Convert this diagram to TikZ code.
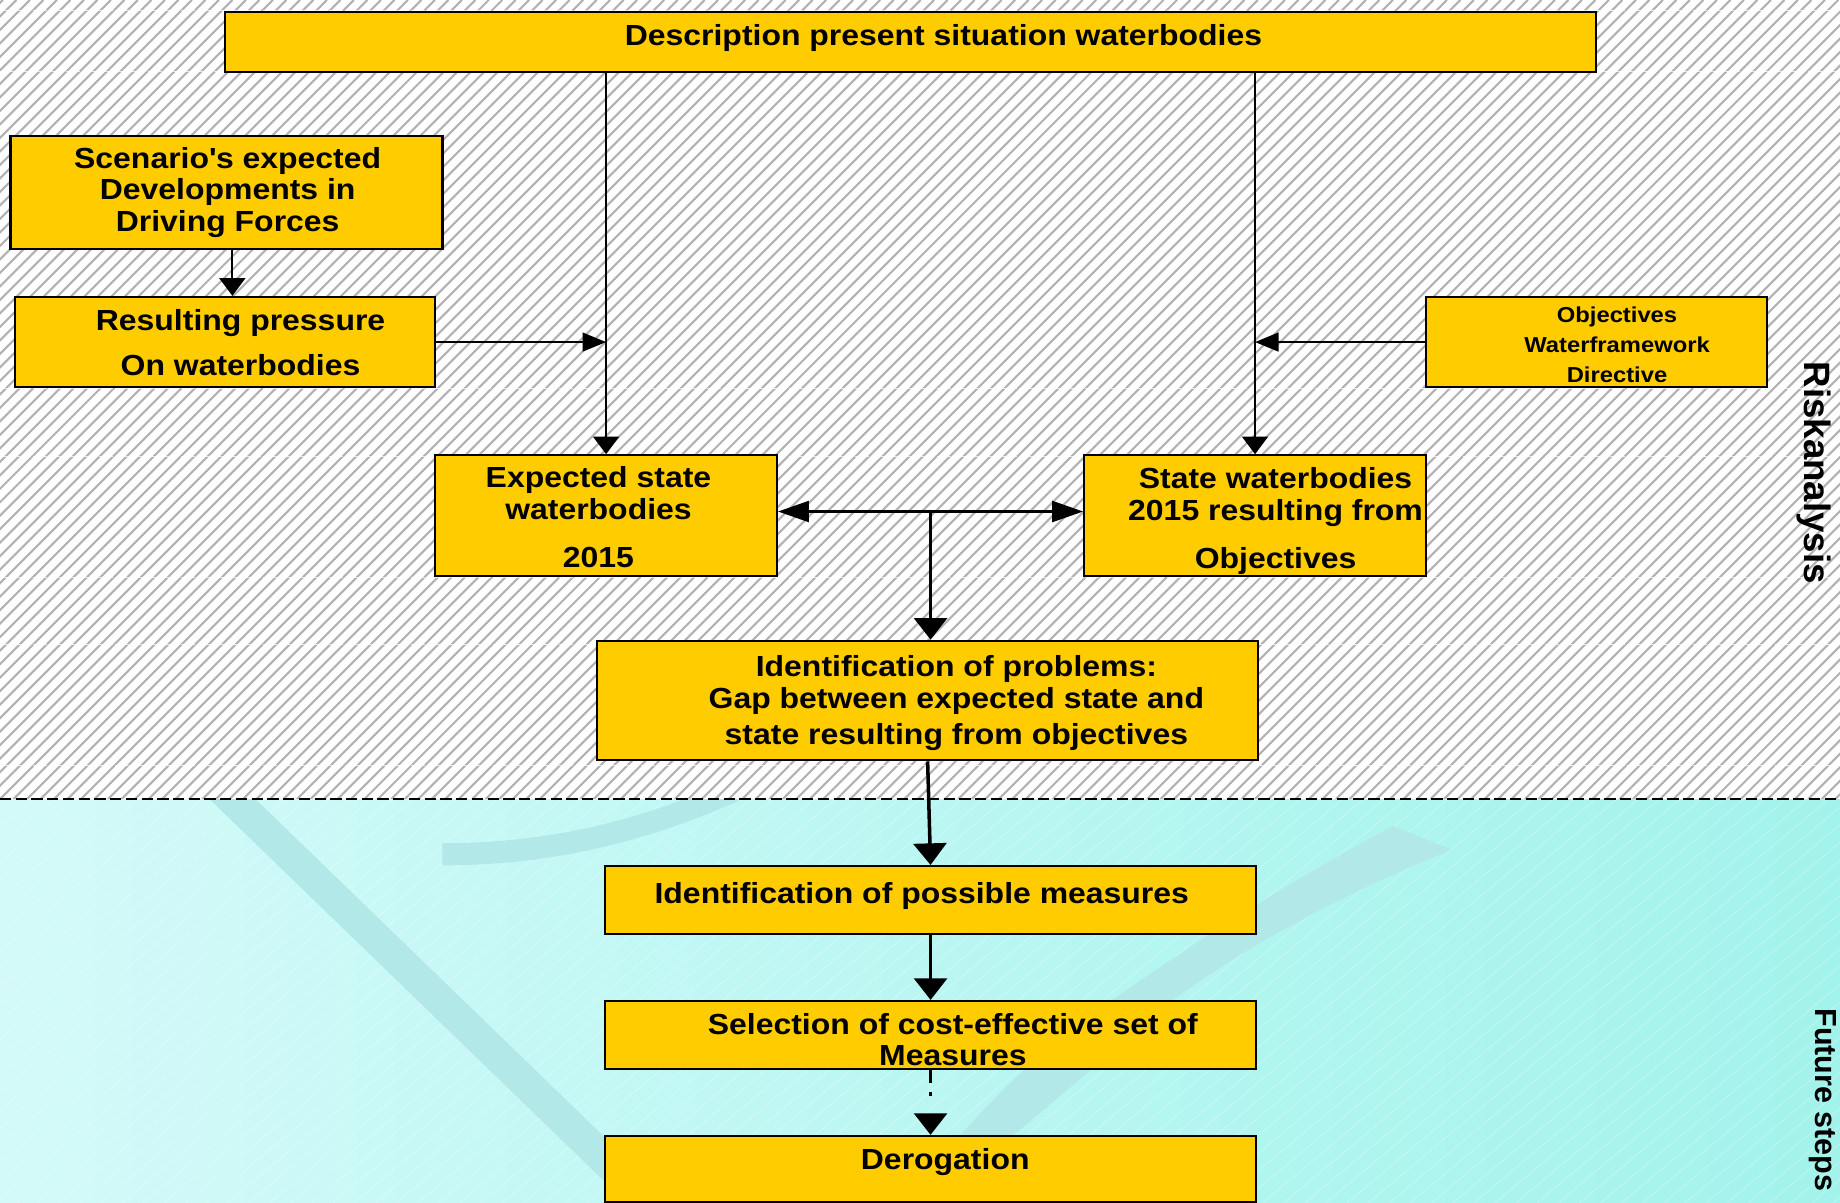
\documentclass[tikz,border=0pt]{standalone}
\usepackage{fontspec}
\setmainfont{Liberation Sans}
\newfontfamily\boxfont{Liberation Sans}[FakeStretch=1.1]
\usetikzlibrary{arrows.meta,calc}

\newcommand{\bxfont}{\boxfont\bfseries\fontsize{17.6pt}{19.2pt}\selectfont}
\newcommand{\smfont}{\boxfont\bfseries\fontsize{13.1pt}{18.1pt}\selectfont}

\definecolor{boxyellow}{HTML}{FFCC00}
\definecolor{cyanmid}{HTML}{C8FFFF}
\definecolor{cyanleft}{HTML}{D3FAF9}
\definecolor{cyanright}{HTML}{A2F3EB}
\definecolor{bandteal}{HTML}{B3E8E8}
\definecolor{hatchgray}{HTML}{B2B2B2}

\begin{document}
\begin{tikzpicture}[x=0.025cm,y=-0.025cm,
		box/.style={draw=black,fill=boxyellow,line width=0.045cm,inner sep=0pt},
		lab/.style={font=\bxfont,align=center,inner sep=0pt},
		sml/.style={font=\smfont,align=center,inner sep=0pt},
		side/.style={rotate=-90,anchor=base west,inner sep=0pt},
		hatch/.style={draw=hatchgray,line width=0.045cm},
		band/.style={fill=bandteal},
		tv/.style={-{Triangle[length=0.375cm,width=0.55cm]},line width=0.04cm},
		th/.style={-{Triangle[length=0.5cm,width=0.4cm]},line width=0.04cm},
		kv/.style={-{Triangle[length=0.46cm,width=0.7cm]},line width=0.075cm},
		kh/.style={{Triangle[length=0.66cm,width=0.44cm]}-{Triangle[length=0.66cm,width=0.44cm]},line width=0.07cm}
		]
		\useasboundingbox (0,0) rectangle (1568,1025);
		
		% --- Upper part: hatched risk analysis area
		\fill[white] (0,0) rectangle (1568,681);
		\begin{scope}
			\clip (0,0) rectangle (1568,681);
			\foreach \i in {-690,-678.5,...,1570}
				\draw[hatch] (\i,681) -- ++(681,-681);
			\foreach \y in {9,61,331,389,492,549,652}
				\draw[white,opacity=0.75,line width=0.02cm,dash pattern=on 0.3cm off 0.05cm] (0,\y) -- (1568,\y);
		\end{scope}
		
		% --- Lower part: future steps area with the light swooshes
		\shade[left color=cyanleft,middle color=cyanmid,right color=cyanright] (0,681) rectangle (1568,1025);
		\begin{scope}
			\clip (0,681) rectangle (1568,1025);
			\foreach \i in {-400,-382,...,1568}
				\draw[white,opacity=0.25,line width=0.02cm] (\i,1025) -- ++(410,-344);
			\fill[band] (178.6,681) -- (217.7,681) -- (573,1025) -- (534,1025) -- cycle;
			\draw[bandteal,line width=0.47cm] (377,728) .. controls (460,728) and (540,712) .. (625,674);
			\fill[band] (1187,704) -- (1237,724)
			.. controls (1160,755) and (1070,800) .. (1000,852)
			.. controls (960,885) and (915,925) .. (865,966)
			-- (800,1050) -- (745,1050) -- (820,966)
			.. controls (860,920) and (900,885) .. (948,852)
			.. controls (1030,795) and (1110,745) .. (1187,704) -- cycle;
		\end{scope}
		\draw[black,line width=0.04cm,dash pattern=on 0.24cm off 0.095cm] (0,681) -- (1568,681);
		
		% --- Boxes
		\node[box,minimum width=29.2cm,minimum height=1.275cm] (desc) at (776,35.5) {};
		\node[box,minimum width=9.2cm,minimum height=2.4cm] (scen) at (193,164) {};
		\node[box,minimum width=8.95cm,minimum height=1.925cm] (press) at (192,291.5) {};
		\node[box,minimum width=7.275cm,minimum height=1.925cm] (obj) at (1360.5,291.5) {};
		\node[box,minimum width=7.275cm,minimum height=2.575cm] (exp) at (516.5,439.5) {};
		\node[box,minimum width=7.275cm,minimum height=2.575cm] (stw) at (1069.5,439.5) {};
		\node[box,minimum width=14.075cm,minimum height=2.55cm] (prob) at (790.5,597) {};
		\node[box,minimum width=13.85cm,minimum height=1.45cm] (meas) at (793,767) {};
		\node[box,minimum width=13.85cm,minimum height=1.45cm] (sel) at (793,882) {};
		\node[box,minimum width=13.85cm,minimum height=1.4cm] (der) at (793,996) {};
		
		% --- Box texts
		\node[lab] (descT) at (804,32.5) {Description present situation waterbodies};
		\node[lab] (scenT) at (194,164) {Scenario\textquotesingle s expected\\Developments in\\Driving Forces};
		\node[lab] (pressT) at (205,292) {Resulting pressure\\[0.275cm]On waterbodies};
		\node[sml] (objT) at (1378,293.5) {Objectives\\Waterframework\\Directive};
		\node[lab] (expT) at (510,441) {Expected state\\waterbodies\\[0.35cm]2015};
		\node[lab] (stwT) at (1087,444) {State waterbodies\\2015 resulting from\\[0.35cm]Objectives};
		\node[lab] (probT) at (815,599.5) {Identification of problems:\\Gap between expected state and\\[0.1cm]state resulting from objectives};
		\node[lab] (measT) at (785.5,763.5) {Identification of possible measures};
		\node[lab] (selT) at (812,886) {Selection of cost-effective set of\\Measures};
		\node[lab] (derT) at (805.5,990.5) {Derogation};
		
		% --- Side labels
		\node[side,font=\bfseries\fontsize{22.2pt}{26pt}\selectfont] (risk) at (1538,308) {Riskanalysis};
		\node[side,font=\bfseries\fontsize{18.5pt}{22pt}\selectfont] (future) at (1547,859) {Future steps};
		
		% --- Connectors
		\draw[tv] (desc.south -| exp.north) -- (exp.north);
		\draw[tv] (desc.south -| stw.north) -- (stw.north);
		\draw[tv] ([xshift=0.125cm]scen.south) -- ([xshift=0.125cm]scen.south |- press.north);
		\coordinate (joinL) at (press.east -| exp.north);
		\coordinate (joinR) at (obj.west -| stw.north);
		\draw[th] (press.east) -- (joinL);
		\draw[th] (obj.west) -- (joinR);
		\draw[kh] ([yshift=0.09cm]exp.east) -- ([yshift=0.09cm]stw.west);
		\coordinate (fork) at ($([yshift=0.09cm]exp.east)!0.5!([yshift=0.09cm]stw.west)$);
		\draw[kv] (fork) -- (fork |- prob.north);
		\draw[kv] (prob.south) -- (meas.north);
		\draw[kv] (meas.south) -- (sel.north);
		\draw[kv,dash pattern=on 0.275cm off 0.19cm on 0.085cm off 0.45cm] (sel.south) -- (der.north);
		
	\end{tikzpicture}
\end{document}
